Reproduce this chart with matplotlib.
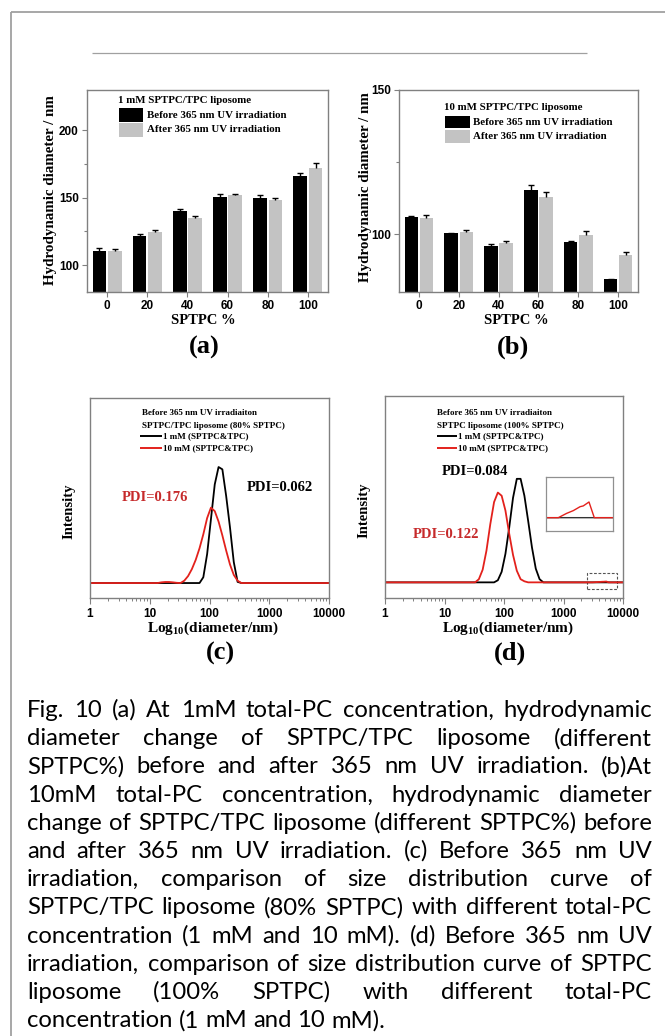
import matplotlib
matplotlib.use('Agg')
import matplotlib.pyplot as plt
from matplotlib.patches import Rectangle
from matplotlib.lines import Line2D
import numpy as np

plt.rcParams['mathtext.fontset'] = 'custom'
plt.rcParams['mathtext.rm'] = 'Liberation Serif:bold'
plt.rcParams['mathtext.bf'] = 'Liberation Serif:bold'
plt.rcParams['mathtext.it'] = 'Liberation Serif:bold:italic'

# ---------------- data ----------------
sptpc = [0, 20, 40, 60, 80, 100]
a_before = [110.7, 121.9, 139.8, 150.7, 149.5, 166.1]
a_before_err = [2.0, 1.0, 1.7, 2.2, 2.2, 2.5]
a_after = [110.4, 124.3, 134.8, 151.7, 148.5, 172.1]
a_after_err = [1.2, 1.5, 1.7, 1.2, 1.5, 3.7]

b_before = [106.1, 100.3, 96.1, 115.3, 97.3, 84.5]
b_before_err = [0.2, 0.2, 0.7, 1.85, 0.35, 0.1]
b_after = [105.7, 100.8, 97.1, 113.0, 99.7, 92.7]
b_after_err = [0.9, 0.8, 0.6, 1.5, 1.4, 1.0]

c_black_size = [1, 58.8, 68.1, 78.8, 91.3, 105.7, 122.4, 141.8, 164.2, 190.1, 220.2, 255.0, 295.3, 342.0, 10000]
c_black_int = [0, 0, 0, 5, 25, 55, 85, 100, 98, 75, 48, 18, 1, 0, 0]
c_red_size = [1, 13.5, 15.7, 18.2, 21.0, 24.4, 28.2, 32.7, 37.8, 43.8, 50.7, 58.8, 68.1, 78.8, 91.3,
              105.7, 122.4, 141.8, 164.2, 190.1, 220.2, 255.0, 295.3, 342.0, 396.1, 10000]
c_red_int = [0, 0, 0.6, 0.9, 0.9, 0.6, 0.2, 0, 2, 6, 12, 20, 30, 42, 56,
             65, 62, 53, 41, 28, 16, 7, 2, 0, 0, 0]

d_black_size = [1, 68.1, 78.8, 91.3, 105.7, 122.4, 141.8, 164.2, 190.1, 220.2, 255.0, 295.3, 342.0, 396.1, 458.7, 10000]
d_black_int = [0, 0, 2, 10, 27, 52, 80, 98, 98, 82, 58, 33, 13, 3, 0, 0]
d_red_size = [1, 32.7, 37.8, 43.8, 50.7, 58.8, 68.1, 78.8, 91.3, 105.7, 122.4, 141.8, 164.2, 190.1, 220.2, 255.0,
              3050, 3530, 3970, 4470, 4730, 5230, 5740, 10000]
d_red_int = [0, 0, 3, 12, 30, 55, 76, 85, 82, 68, 46, 26, 11, 3, 1, 0,
             0, 0.22, 0.36, 0.56, 0.6, 0.8, 0, 0]

log_ticks = [1, 10, 100, 1000, 10000]
log_tick_labels = ['1', '10', '100', '1000', '10000']

caption_lines = [
    "Fig. 10 (a) At 1mM total-PC concentration, hydrodynamic",
    "diameter change of SPTPC/TPC liposome (different",
    "SPTPC%) before and after 365 nm UV irradiation. (b)At",
    "10mM total-PC concentration, hydrodynamic diameter",
    "change of SPTPC/TPC liposome (different SPTPC%) before",
    "and after 365 nm UV irradiation. (c) Before 365 nm UV",
    "irradiation, comparison of size distribution curve of",
    "SPTPC/TPC liposome (80% SPTPC) with different total-PC",
    "concentration (1 mM and 10 mM). (d) Before 365 nm UV",
    "irradiation, comparison of size distribution curve of SPTPC",
    "liposome (100% SPTPC) with different total-PC",
    "concentration (1 mM and 10 mM).",
]

# ---------------- setup ----------------
W, H = 665, 1036
fig = plt.figure(figsize=(W / 100, H / 100), dpi=100)
fig.patch.set_facecolor('white')

SERIF = 'Liberation Serif'
SANS = 'Liberation Sans'
SPINE = '#808080'
RED_LINE = '#e3211c'
RED_TEXT = '#c62a2b'
GRAY_BAR = '#c3c3c3'
FRAME = '#a0a0a0'


def fx(x):
    return x / W


def fy(y):
    return 1 - y / H


def box(l, t, r, b):
    return [fx(l), fy(b), (r - l) / W, (b - t) / H]


def ftext(x, y, s, **kw):
    kw.setdefault('va', 'center')
    kw.setdefault('ha', 'left')
    return fig.text(fx(x), fy(y), s, **kw)


def frect(l, t, r, b, color):
    fig.add_artist(Rectangle((fx(l), fy(b)), (r - l) / W, (b - t) / H,
                             transform=fig.transFigure, color=color, lw=0))


def fline(x0, y0, x1, y1, color, lw):
    fig.add_artist(Line2D([fx(x0), fx(x1)], [fy(y0), fy(y1)],
                          transform=fig.transFigure, color=color, lw=lw,
                          solid_capstyle='butt'))


# page frame
fline(11, 12, 665, 12, FRAME, 1.3)
fline(11, 12, 11, 1036, FRAME, 1.3)
fline(92, 53, 587, 53, FRAME, 0.9)


def style_axes(ax):
    for sp in ax.spines.values():
        sp.set_color(SPINE)
        sp.set_linewidth(1.0)
    ax.tick_params(which='both', direction='out', color=SPINE, labelsize=8.5)
    for lab in ax.get_xticklabels() + ax.get_yticklabels():
        lab.set_fontfamily(SANS)
        lab.set_fontweight('bold')


def bar_panel(rect, before, be, after, ae, ylim, yticks, yminor):
    ax = fig.add_axes(rect)
    x = np.arange(len(sptpc))
    w = 0.34
    off = 0.19
    ax.bar(x - off, before, w, color='black', zorder=2)
    ax.bar(x + off, after, w, color=GRAY_BAR, zorder=2)
    for xs, v, e in ((x - off, before, be), (x + off, after, ae)):
        v = np.array(v)
        e = np.array(e)
        ax.vlines(xs, v, v + e, color='black', lw=1.0, zorder=3)
        ax.hlines(v + e, xs - 0.075, xs + 0.075, color='black', lw=1.0, zorder=3)
    ax.set_xlim(-0.5, 5.5)
    ax.set_ylim(*ylim)
    ax.set_xticks(x)
    ax.set_xticklabels([str(v) for v in sptpc])
    ax.set_yticks(yticks)
    ax.set_yticks(yminor, minor=True)
    ax.tick_params(which='major', length=3.5, width=0.8, pad=2.5)
    ax.tick_params(which='minor', length=2, width=0.8)
    style_axes(ax)
    return ax


# ---------------- panel a ----------------
bar_panel(box(87, 90, 328, 292), a_before, a_before_err, a_after, a_after_err,
          (80, 230), [100, 150, 200], [125, 175])
ftext(118, 100.7, '1 mM SPTPC/TPC liposome', family=SERIF, weight='bold', fontsize=7.8)
frect(119, 108, 143, 122, 'black')
frect(119, 123, 143, 137, GRAY_BAR)
ftext(147, 115, 'Before 365 nm UV irradiation', family=SERIF, weight='bold', fontsize=7.8)
ftext(147, 130, 'After 365 nm UV irradiation', family=SERIF, weight='bold', fontsize=7.8)
ftext(51, 190, 'Hydrodynamic diameter / nm', family=SERIF, weight='bold', fontsize=10.8,
      rotation=90, ha='center')
ftext(203, 321, 'SPTPC %', family=SERIF, weight='bold', fontsize=10.5, ha='center')
ftext(204, 347, '(a)', family=SERIF, weight='bold', fontsize=19, ha='center')

# ---------------- panel b ----------------
bar_panel(box(399, 90, 638, 292), b_before, b_before_err, b_after, b_after_err,
          (80, 150), [100, 150], [125])
ftext(444, 107.3, '10 mM SPTPC/TPC liposome', family=SERIF, weight='bold', fontsize=7.8)
frect(445, 116, 470, 128, 'black')
frect(445, 130, 470, 143, GRAY_BAR)
ftext(473, 122.3, 'Before 365 nm UV irradiation', family=SERIF, weight='bold', fontsize=7.8)
ftext(473, 136.7, 'After 365 nm UV irradiation', family=SERIF, weight='bold', fontsize=7.8)
ftext(365, 187, 'Hydrodynamic diameter / nm', family=SERIF, weight='bold', fontsize=10.8,
      rotation=90, ha='center')
ftext(516, 321, 'SPTPC %', family=SERIF, weight='bold', fontsize=10.5, ha='center')
ftext(513, 347, '(b)', family=SERIF, weight='bold', fontsize=19, ha='center')


# ---------------- distribution panels ----------------
def dist_panel(rect, curves, ylim):
    ax = fig.add_axes(rect)
    ax.set_xscale('log')
    for s, v, col in curves:
        ax.plot(s, v, color=col, lw=1.3, solid_joinstyle='round')
    ax.set_xlim(1, 10000)
    ax.set_ylim(*ylim)
    ax.set_yticks([])
    ax.set_xticks(log_ticks)
    ax.set_xticklabels(log_tick_labels)
    ax.tick_params(which='major', length=4, width=0.8, pad=3)
    ax.tick_params(which='minor', length=2.5, width=0.7)
    ax.tick_params(axis='x', which='minor', labelbottom=False)
    style_axes(ax)
    return ax


xlab = r'Log$_{\mathrm{10}}$(diameter/nm)'

# panel c
dist_panel(box(90, 398, 329, 598),
           [(c_black_size, c_black_int, 'black'), (c_red_size, c_red_int, RED_LINE)],
           (-12.9, 159.5))
ftext(141.7, 413.3, 'Before 365 nm UV irradiaiton', family=SERIF, weight='bold', fontsize=6.5)
ftext(141.7, 425.7, 'SPTPC/TPC liposome (80% SPTPC)', family=SERIF, weight='bold', fontsize=6.5)
fline(140, 436, 161.7, 436, 'black', 1.4)
fline(140, 448.3, 161.7, 448.3, RED_LINE, 1.4)
ftext(163, 436, '1 mM (SPTPC&TPC)', family=SERIF, weight='bold', fontsize=6.5)
ftext(163, 448.3, '10 mM (SPTPC&TPC)', family=SERIF, weight='bold', fontsize=6.5)
ftext(246.7, 487.3, 'PDI=0.062', family=SERIF, weight='bold', fontsize=10.5, color='black')
ftext(121.7, 497.3, 'PDI=0.176', family=SERIF, weight='bold', fontsize=10.5, color=RED_TEXT)
ftext(69, 511, 'Intensity', family=SERIF, weight='bold', fontsize=10.5, rotation=90, ha='center')
ftext(213, 628.3, xlab, family=SERIF, weight='bold', fontsize=11, ha='center')
ftext(220, 653.3, '(c)', family=SERIF, weight='bold', fontsize=19, ha='center')

# panel d
axd = dist_panel(box(385, 396, 623, 598),
                 [(d_black_size, d_black_int, 'black'), (d_red_size, d_red_int, RED_LINE)],
                 (-14.8, 176.4))
axd.add_patch(Rectangle((2455, -6.3), 8020 - 2455, 8.8 + 6.3, fill=False,
                        ec='#555555', lw=0.8, ls=(0, (2.5, 1.5))))
ftext(436.7, 413.3, 'Before 365 nm UV irradiaiton', family=SERIF, weight='bold', fontsize=6.5)
ftext(436.7, 425.7, 'SPTPC liposome (100% SPTPC)', family=SERIF, weight='bold', fontsize=6.5)
fline(436.7, 436, 456.7, 436, 'black', 1.4)
fline(436.7, 448.3, 456.7, 448.3, RED_LINE, 1.4)
ftext(458, 436, '1 mM (SPTPC&TPC)', family=SERIF, weight='bold', fontsize=6.5)
ftext(458, 448.3, '10 mM (SPTPC&TPC)', family=SERIF, weight='bold', fontsize=6.5)
ftext(441.7, 471.7, 'PDI=0.084', family=SERIF, weight='bold', fontsize=10.5, color='black')
ftext(412.7, 535, 'PDI=0.122', family=SERIF, weight='bold', fontsize=10.5, color=RED_TEXT)
ftext(364, 510, 'Intensity', family=SERIF, weight='bold', fontsize=10.5, rotation=90, ha='center')
ftext(508, 628.3, xlab, family=SERIF, weight='bold', fontsize=11, ha='center')
ftext(510, 653.3, '(d)', family=SERIF, weight='bold', fontsize=19, ha='center')

# inset
axi = fig.add_axes(box(546, 476.7, 613.3, 531))
axi.set_xscale('log')
axi.plot(d_black_size, d_black_int, color='#333333', lw=1.0)
axi.plot(d_red_size, d_red_int, color=RED_LINE, lw=1.0)
axi.set_xlim(2455, 8020)
axi.set_ylim(-0.68, 2.09)
axi.set_xticks([])
axi.set_yticks([])
axi.minorticks_off()
for sp in axi.spines.values():
    sp.set_color('#909090')
    sp.set_linewidth(0.9)

# ---------------- caption (justified) ----------------
CAP_FONT = 'Lato'
renderer = fig.canvas.get_renderer()


def text_w(s, fs):
    t = fig.text(0, 0, s, fontsize=fs, family=CAP_FONT)
    w = t.get_window_extent(renderer).width
    t.remove()
    return w


left, right = 27, 652
avail = right - left
fs = 15.5
words_all = [ln.split(' ') for ln in caption_lines]


def natural(fs):
    sp = text_w('a a', fs) - text_w('aa', fs)
    m = 0
    for words in words_all[:-1]:
        m = max(m, sum(text_w(w_, fs) for w_ in words) + (len(words) - 1) * sp * 1.0)
    return m


for _ in range(2):
    nat = natural(fs)
    fs = fs * (avail * 0.995) / nat
space = text_w('a a', fs) - text_w('aa', fs)

y0 = 717
dy = 28.2
for i, words in enumerate(words_all):
    base = y0 + i * dy
    widths = [text_w(w_, fs) for w_ in words]
    if i < len(words_all) - 1 and len(words) > 1:
        gap = (avail - sum(widths)) / (len(words) - 1)
    else:
        gap = space
    x = left
    for w_, wd in zip(words, widths):
        fig.text(fx(x), fy(base), w_, fontsize=fs, family=CAP_FONT, color='black',
                 ha='left', va='baseline')
        x += wd + gap

fig.savefig('out.png', dpi=100, facecolor='white')
